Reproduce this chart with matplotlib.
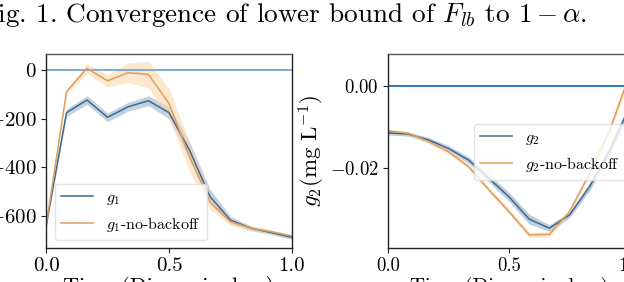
import numpy as np
import matplotlib
matplotlib.use("Agg")
import matplotlib.pyplot as plt

plt.rcParams['font.family'] = ['cmr10', 'DejaVu Serif']
plt.rcParams['mathtext.fontset'] = 'cm'
plt.rcParams['axes.formatter.use_mathtext'] = True
plt.rcParams['axes.unicode_minus'] = True

# ---- data ----
t = np.linspace(0, 1, 13)

g1 = [-643, -175, -123, -194, -151, -126, -175, -329, -520, -616, -650, -668, -687]
g1_sd = [5, 15, 18, 18, 18, 20, 25, 35, 30, 15, 10, 8, 8]
g1_nb = [-643, -89, 7, -44, -11, -18, -137, -356, -543, -623, -650, -664, -682]
g1_nb_sd = [5, 10, 20, 25, 40, 55, 60, 60, 30, 15, 10, 8, 5]

g2 = [-0.0114, -0.0117, -0.0131, -0.0152, -0.0180, -0.0224, -0.0269, -0.0323,
      -0.0345, -0.0313, -0.0244, -0.0156, -0.0049]
g2_sd = [0.0005, 0.0005, 0.0006, 0.0007, 0.0008, 0.0009, 0.0011, 0.0012,
         0.0008, 0.0007, 0.0010, 0.0012, 0.0012]
g2_nb = [-0.0109, -0.0115, -0.0135, -0.0160, -0.0196, -0.0252, -0.0305, -0.0361,
         -0.0360, -0.0305, -0.0212, -0.0107, 0.0030]
g2_nb_sd = [0.0004, 0.0004, 0.0005, 0.0005, 0.0006, 0.0006, 0.0006, 0.0006,
            0.0006, 0.0006, 0.0008, 0.0010, 0.0010]

xticks = [0.0, 0.5, 1.0]
g1_ticks = [0, -200, -400, -600]
g2_ticks = [0.00, -0.02]

caption = r"Fig. 1. Convergence of lower bound of $F_{lb}$ to $1-\alpha$."
xlabel = "Time (Dimensionless)"

BLUE = '#3d6a92'
ORANGE = '#dc9f5e'
BLUE_F = '#9fb3c8'
ORANGE_F = '#fcd5a8'

W, H = 624, 282
fig = plt.figure(figsize=(W / 100, H / 100), dpi=100)


def px_axes(l, t_, r, b):
    return fig.add_axes([l / W, (H - b) / H, (r - l) / W, (b - t_) / H])


def style(ax, fs):
    for s in ['left', 'bottom', 'right']:
        ax.spines[s].set_color('#222222')
    ax.spines['top'].set_color('#555555')
    for s in ax.spines.values():
        s.set_linewidth(1.0)
    ax.tick_params(labelsize=fs, length=3.5, width=0.8, pad=3, color='#222222')
    ax.set_xlim(0, 1)
    ax.set_xticks(xticks)
    ax.set_xticklabels(['0.0', '0.5', '1.0'])


# left
ax1 = px_axes(46, 54, 292, 248)
style(ax1, 15)
ax1.axhline(0, color='#6fa7d6', lw=1.3)
y, s = np.array(g1), np.array(g1_sd)
ax1.fill_between(t, y - s, y + s, color=BLUE_F, alpha=0.6, lw=0)
ax1.plot(t, y, color=BLUE, lw=1.1, label=r'$g_1$')
y, s = np.array(g1_nb), np.array(g1_nb_sd)
ax1.fill_between(t, y - s, y + s, color=ORANGE_F, alpha=0.55, lw=0)
ax1.plot(t, y, color=ORANGE, lw=1.1, label=r'$g_1$-no-backoff')
ax1.set_ylim(-731, 66)
ax1.set_yticks(g1_ticks)
ax1.set_yticklabels([r'$0$', r'$-200$', r'$-400$', r'$-600$'])
ax1.set_xlabel(xlabel, fontsize=16, labelpad=0.5)
ax1.legend(loc='lower left', bbox_to_anchor=(0.037, 0.041), borderaxespad=0,
           fontsize=11.5, handlelength=2.0, fancybox=True, framealpha=0.8,
           edgecolor='#dddddd')

# right
ax2 = px_axes(388, 54, 630, 248)
style(ax2, 13.5)
ax2.axhline(0, color='#1f6fb4', lw=1.3)
y, s = np.array(g2), np.array(g2_sd)
ax2.fill_between(t, y - s, y + s, color=BLUE_F, alpha=0.65, lw=0)
ax2.plot(t, y, color=BLUE, lw=1.1, label=r'$g_2$')
y, s = np.array(g2_nb), np.array(g2_nb_sd)
ax2.fill_between(t, y - s, y + s, color=ORANGE_F, alpha=0.6, lw=0)
ax2.plot(t, y, color=ORANGE, lw=1.1, label=r'$g_2$-no-backoff')
ax2.set_ylim(-0.0393, 0.0077)
ax2.set_yticks(g2_ticks)
ax2.set_yticklabels([r'$0.00$', r'$-0.02$'])
ax2.set_xlabel(xlabel, fontsize=15, labelpad=1.5)
ax2.set_ylabel(r'$g_2(\mathrm{mg\ L^{-1}})$', fontsize=16.5, labelpad=2)
ax2.legend(loc='upper left', bbox_to_anchor=(0.355, 0.639), borderaxespad=0,
           fontsize=11.5, handlelength=2.0, fancybox=True, framealpha=0.8,
           edgecolor='#dddddd')

fig.text(587 / W, (H - 22) / H, caption, ha='right', va='baseline', fontsize=19.6)

fig.savefig('out.png', dpi=100)
